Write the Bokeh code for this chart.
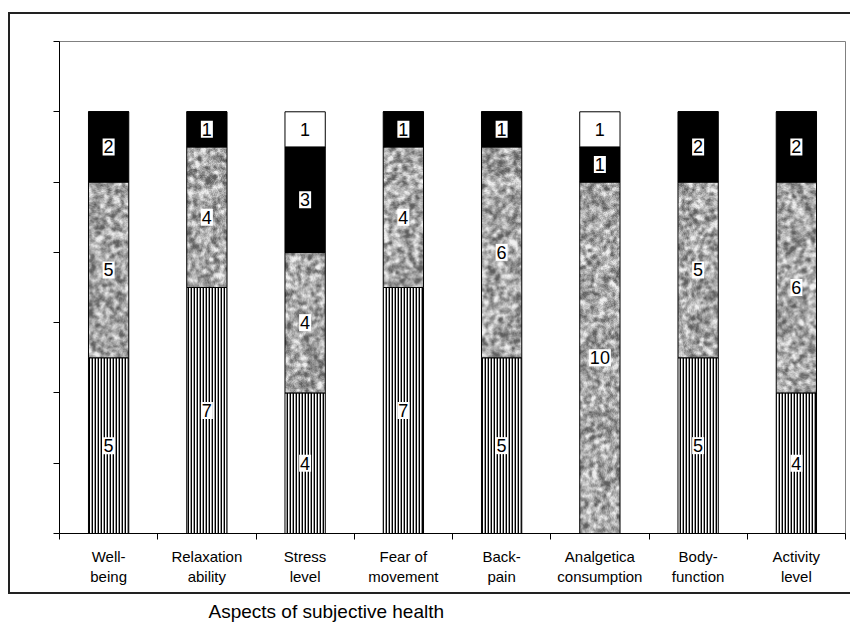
import numpy as np
from bokeh.plotting import figure
from bokeh.models import (ColumnDataSource, FixedTicker, Range1d, Title,
                          InlineStyleSheet)
from bokeh.embed import file_html
from bokeh.resources import INLINE

# Aspects of subjective health: number of respondents per answer group
categories = ["Well-\nbeing", "Relaxation\nability", "Stress\nlevel", "Fear of\nmovement",
              "Back-\npain", "Analgetica\nconsumption", "Body-\nfunction", "Activity\nlevel"]
improved = [5, 7, 4, 7, 5, 0, 5, 4]        # vertical stripes
unchanged = [5, 4, 4, 4, 6, 10, 5, 6]      # speckled grey
worse = [2, 1, 3, 1, 1, 1, 2, 2]           # solid black
missing = [0, 0, 1, 0, 0, 1, 0, 0]         # white
y_ticks = [0, 2, 4, 6, 8, 10, 12, 14]
x_title = "Aspects of subjective health"

FONT = "Liberation Sans"
BAR_W = 0.41

n = len(categories)
xc = np.arange(n) + 0.5
layers = [np.array(improved, float), np.array(unchanged, float),
          np.array(worse, float), np.array(missing, float)]
bottoms = []
acc = np.zeros(n)
for layer in layers:
    bottoms.append(acc.copy())
    acc = acc + layer

# outer chart border drawn as an overlay on the plot's host element
border_css = InlineStyleSheet(css="""
:host { position: relative; }
:host::after {
  content: "";
  position: absolute;
  left: 8px; top: 12px;
  width: 900px; height: 578px;
  border: 2px solid #222222;
  pointer-events: none;
}
""")

p = figure(width=850, height=635, output_backend="svg", toolbar_location=None,
           x_range=Range1d(0, n), y_range=Range1d(0, 14),
           min_border_left=59, min_border_right=5, min_border_top=41, min_border_bottom=102,
           stylesheets=[border_css])
p.background_fill_color = "white"
p.border_fill_color = "white"
p.outline_line_color = "#808080"
p.outline_line_width = 1
p.xgrid.visible = False
p.ygrid.visible = False

# x axis: labels at category centres, tick marks at category boundaries
p.xaxis.ticker = FixedTicker(ticks=list(xc), minor_ticks=list(range(n + 1)))
p.xaxis.major_label_overrides = {float(x): c for x, c in zip(xc, categories)}
p.xaxis.major_tick_out = 0
p.xaxis.major_tick_in = 0
p.xaxis.minor_tick_out = 6
p.xaxis.minor_tick_in = 0
p.xaxis.minor_tick_line_color = "black"
p.xaxis.axis_line_color = "black"
p.xaxis.major_label_text_font = FONT
p.xaxis.major_label_text_font_size = "15px"
p.xaxis.major_label_text_color = "black"
p.xaxis.major_label_standoff = 8

# y axis: unlabelled tick marks every 2 units
p.yaxis.ticker = FixedTicker(ticks=[], minor_ticks=y_ticks)
p.yaxis.minor_tick_out = 6
p.yaxis.minor_tick_in = 0
p.yaxis.minor_tick_line_color = "black"
p.yaxis.axis_line_color = "black"

# bottom layer: vertical stripes
p.vbar(x=xc, width=BAR_W, bottom=bottoms[0], top=bottoms[0] + layers[0],
       fill_color="white", hatch_pattern="|", hatch_color="black",
       hatch_scale=3, hatch_weight=1.8, line_color="black", line_width=1)

# second layer: speckled grey texture
rng = np.random.default_rng(11)
tex_h, tex_w = 480, 48 * n
base = rng.random((tex_h, tex_w))
for _ in range(5):
    base = (base + np.roll(base, 1, 0) + np.roll(base, -1, 0)
            + np.roll(base, 1, 1) + np.roll(base, -1, 1)) / 5.0
base = (base - base.min()) / (base.max() - base.min())
fine = rng.random((tex_h, tex_w))
g = 0.85 * base + 0.15 * fine
lo, hi = np.percentile(g, 2), np.percentile(g, 98)
g = np.clip((g - lo) / (hi - lo), 0, 1)
gray = np.clip(95 + 145 * g, 0, 255).astype(np.uint8)

px_per_unit = 492 / 14
for i in range(n):
    h_units = layers[1][i]
    if h_units <= 0:
        continue
    rows = max(1, int(round(h_units * px_per_unit)))
    block = gray[:rows, i * 48:i * 48 + 40]
    img = np.empty(block.shape, dtype=np.uint32)
    view = img.view(dtype=np.uint8).reshape(block.shape + (4,))
    view[..., 0] = block
    view[..., 1] = block
    view[..., 2] = block
    view[..., 3] = 255
    p.image_rgba(image=[img], x=[xc[i] - BAR_W / 2], y=[bottoms[1][i]],
                 dw=[BAR_W], dh=[h_units])
p.vbar(x=xc, width=BAR_W, bottom=bottoms[1], top=bottoms[1] + layers[1],
       fill_alpha=0, line_color="black", line_width=1)

# third layer: black
p.vbar(x=xc, width=BAR_W, bottom=bottoms[2], top=bottoms[2] + layers[2],
       fill_color="black", line_color="black", line_width=1)

# top layer: white
p.vbar(x=xc, width=BAR_W, bottom=bottoms[3], top=bottoms[3] + layers[3],
       fill_color="white", line_color="black", line_width=1)

# value labels in white boxes at segment centres
lx, ly, lt = [], [], []
for layer, bot in zip(layers, bottoms):
    for i in range(n):
        if layer[i] > 0:
            lx.append(xc[i])
            ly.append(bot[i] + layer[i] / 2)
            lt.append(str(int(layer[i])))
src = ColumnDataSource(dict(x=lx, y=ly, text=lt))
p.text(x="x", y="y", text="text", source=src, text_align="center",
       text_baseline="middle", text_font={"value": FONT}, text_font_size="18px",
       text_color="black", background_fill_color="white",
       padding=dict(left=1, right=1, top=2, bottom=2))

# horizontal axis title, below the category labels
p.add_layout(Title(text=x_title, align="left", offset=149, standoff=23,
                   text_font=FONT, text_font_size="19px", text_font_style="normal",
                   text_color="black"), "below")

open("out.html", "w").write(file_html(p, INLINE))
